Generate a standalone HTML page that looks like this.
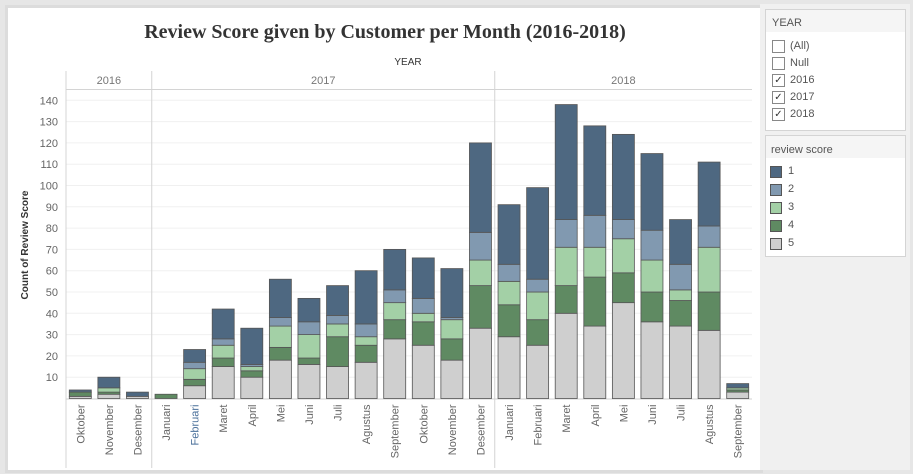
<!DOCTYPE html>
<html><head><meta charset="utf-8"><style>
body{margin:0;width:913px;height:474px;background:#e6e6e6;font-family:"Liberation Sans",sans-serif;overflow:hidden;position:relative}
.box{position:absolute;background:#fff;border:1px solid #d4d4d4}
.lg{position:absolute;font-size:11px;color:#555}
.cb{position:absolute;width:11px;height:11px;border:1px solid #888;background:#fff;font-size:10px;line-height:11px;text-align:center;color:#333}
.sw{position:absolute;width:10px;height:10px;border:1px solid #555}
</style></head><body>
<div class="box" style="left:5px;top:5px;width:752px;height:462px;border:3px solid #dcdcdc"></div>
<svg id="chart" width="913" height="474" style="position:absolute;left:0;top:0"></svg>
<div style="position:absolute;left:760px;top:4px;width:150px;height:466px;background:#f0f0f0"></div>
<div class="box" style="left:765px;top:9px;width:139px;height:120px">
 <div style="background:#f5f5f5;height:22px;font-size:11px;color:#555;padding:7px 0 0 6px;box-sizing:border-box">YEAR</div>
 <div class="cb" style="left:6px;top:30px"></div><div class="lg" style="left:24px;top:30px">(All)</div>
 <div class="cb" style="left:6px;top:47px"></div><div class="lg" style="left:24px;top:47px">Null</div>
 <div class="cb" style="left:6px;top:64px">✓</div><div class="lg" style="left:24px;top:64px">2016</div>
 <div class="cb" style="left:6px;top:81px">✓</div><div class="lg" style="left:24px;top:81px">2017</div>
 <div class="cb" style="left:6px;top:98px">✓</div><div class="lg" style="left:24px;top:98px">2018</div>
</div>
<div class="box" style="left:765px;top:135px;width:139px;height:120px">
 <div style="background:#f5f5f5;height:22px;font-size:11px;color:#555;padding:8px 0 0 5px;box-sizing:border-box">review score</div>
 <div class="sw" style="left:4px;top:30px;background:#4e6881"></div><div class="lg" style="left:22px;top:29px">1</div>
 <div class="sw" style="left:4px;top:48px;background:#8199b0"></div><div class="lg" style="left:22px;top:47px">2</div>
 <div class="sw" style="left:4px;top:66px;background:#a3d0a6"></div><div class="lg" style="left:22px;top:65px">3</div>
 <div class="sw" style="left:4px;top:84px;background:#5f8a62"></div><div class="lg" style="left:22px;top:83px">4</div>
 <div class="sw" style="left:4px;top:102px;background:#cfcfcf"></div><div class="lg" style="left:22px;top:101px">5</div>
</div>
<script>
const months=["Oktober","November","Desember","Januari","Februari","Maret","April","Mei","Juni","Juli","Agustus","September","Oktober","November","Desember","Januari","Februari","Maret","April","Mei","Juni","Juli","Agustus","September"];
const score5=[1,2,1,0,6,15,10,18,16,15,17,28,25,18,33,29,25,40,34,45,36,34,32,3];
const score4=[2,1,0,2,3,4,3,6,3,14,8,9,11,10,20,15,12,13,23,14,14,12,18,1];
const score3=[0,2,0,0,5,6,2,10,11,6,4,8,4,9,12,11,13,18,14,16,15,5,21,1];
const score2=[0,0,0,0,3,3,1,4,6,4,6,6,7,1,13,8,6,13,15,9,14,12,10,0];
const score1=[1,5,2,0,6,14,17,18,11,14,25,19,19,23,42,28,43,54,42,40,36,21,30,2];
const yTicks=[10,20,30,40,50,60,70,80,90,100,110,120,130,140];
const years=[{label:"2016",start:0,end:3},{label:"2017",start:3,end:15},{label:"2018",start:15,end:24}];
const series=[score5,score4,score3,score2,score1];
const colors=["#cfcfcf","#5f8a62","#a3d0a6","#8199b0","#4e6881"];
const names=["score-5","score-4","score-3","score-2","score-1"];
const X0=66,X1=752,Y0=398.5,PX=2.13,slot=(X1-X0)/months.length;
const x=i=>X0+slot*i, y=v=>Y0-v*PX;
const svg=document.getElementById('chart'),NS="http://www.w3.org/2000/svg";
function mk(t,a,txt){const e=document.createElementNS(NS,t);for(const k in a)e.setAttribute(k,a[k]);if(txt!==undefined)e.textContent=txt;svg.appendChild(e);return e;}
let t=mk('text',{x:385,y:38,'text-anchor':'middle','font-family':'Liberation Serif,serif','font-weight':'bold','font-size':20,fill:'#333'},'Review Score given by Customer per Month (2016-2018)');


t=mk('text',{x:408,y:65,'text-anchor':'middle','font-size':10,fill:'#333'},'YEAR');


mk('line',{x1:X0,x2:X1,y1:89.5,y2:89.5,stroke:'#d4d4d4'});
yTicks.forEach(v=>{
 mk('line',{x1:X0,x2:X1,y1:y(v),y2:y(v),stroke:'#f0f0f0'});
 const l=mk('text',{x:58,y:y(v)+4,'text-anchor':'end','font-size':11,fill:'#666'},v);
 
 
});
years.forEach(yr=>{
 mk('line',{x1:x(yr.start),x2:x(yr.start),y1:71,y2:468,stroke:'#d4d4d4'});
 const l=mk('text',{x:(x(yr.start)+x(yr.end))/2,y:84,'text-anchor':'middle','font-size':11,fill:'#777'},yr.label);
 
 
});
mk('line',{x1:X0,x2:X1,y1:Y0+0.5,y2:Y0+0.5,stroke:'#d0d0d0'});
t=mk('text',{transform:'translate(28,245) rotate(-90)','text-anchor':'middle','font-size':10,'font-weight':'bold',fill:'#333'},'Count of Review Score');


const bw=22;
months.forEach((m,i)=>{
 let base=0;const cx=x(i)+slot/2;
 series.forEach((s,k)=>{
  const v=s[i];if(v>0){
   const r=mk('rect',{x:cx-bw/2,y:y(base+v),width:bw,height:v*PX,fill:colors[k],stroke:'#555','stroke-width':0.8});
   
   
  }
  base+=v;
 });
 const l=mk('text',{transform:`translate(${cx+4},${Y0+6}) rotate(-90)`,'text-anchor':'end','font-size':11,fill:i==4?'#4a6f9a':'#666'},m);
 
 
});
</script>
</body></html>
